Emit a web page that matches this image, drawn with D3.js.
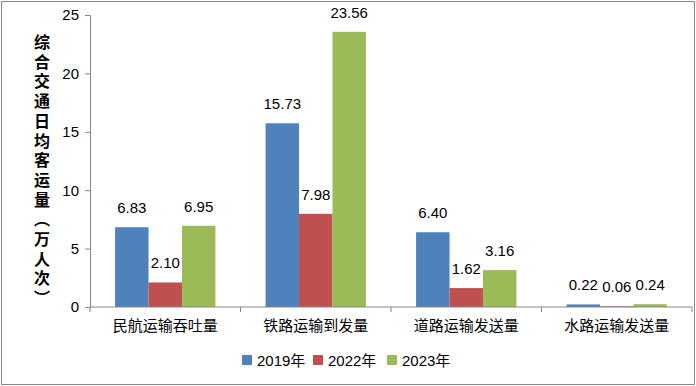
<!DOCTYPE html>
<html>
<head>
<meta charset="utf-8">
<script src="https://cdn.jsdelivr.net/npm/d3@7"></script>
<style>
body{margin:0;background:#fff;}
svg{display:block;font-family:"Liberation Sans","Noto Sans CJK SC",sans-serif;}
</style>
</head>
<body>
<svg></svg>
<script>
var categories=["民航运输吞吐量","铁路运输到发量","道路运输发送量","水路运输发送量"];
var years=["2019年","2022年","2023年"];
var v2019=[6.83,15.73,6.40,0.22];
var v2022=[2.10,7.98,1.62,0.06];
var v2023=[6.95,23.56,3.16,0.24];
var yTicks=[0,5,10,15,20,25];
var colors=["#4F81BD","#C0504D","#9BBB59"];
var yTitle="综合交通日均客运量（万人次）";

var screen={width:696,height:386};
var svg=d3.select("svg")
          .attr("width",screen.width)
          .attr("height",screen.height)

svg.append("rect")
   .attr("x",1.5).attr("y",1.5)
   .attr("width",screen.width-3).attr("height",screen.height-3)
   .attr("fill","#fff").attr("stroke","#868686").attr("stroke-width",1)

var margins={left:90,right:4,top:15,bottom:79};
var boxWidth=screen.width-margins.left-margins.right;
var boxHeight=screen.height-margins.top-margins.bottom;

var series=[v2019,v2022,v2023];
var rows=categories.map(function(c,i){
  return {cat:c,vals:series.map(function(s,j){return {year:years[j],value:s[i],k:j};})};
});

var xScale=d3.scaleBand()
             .domain(categories)
             .range([0,boxWidth])
             .paddingInner(0)
             .paddingOuter(0);
var inner=d3.scaleBand()
            .domain(d3.range(3))
            .range([0,xScale.bandwidth()])
            .paddingOuter(0.75)
            .paddingInner(0);
var yScale=d3.scaleLinear()
             .domain([0,25])
             .range([boxHeight,0]);

var plot=svg.append("g")
            .attr("transform","translate("+margins.left+","+margins.top+")");

var groups=plot.selectAll(".grp")
   .data(rows)
   .enter()
   .append("g")
   .attr("transform",function(d){return "translate("+xScale(d.cat)+",0)";})

groups.selectAll("rect")
   .data(function(d){return d.vals;})
   .enter()
   .append("rect")
   .attr("x",function(d){return inner(d.k);})
   .attr("width",inner.bandwidth())
   .attr("y",function(d){return yScale(d.value);})
   .attr("height",function(d){return boxHeight-yScale(d.value);})
   .attr("fill",function(d){return colors[d.k];})

groups.selectAll("text")
   .data(function(d){return d.vals;})
   .enter()
   .append("text")
   .attr("x",function(d){return inner(d.k)+inner.bandwidth()/2;})
   .attr("y",function(d){return yScale(d.value)-14;})
   .attr("text-anchor","middle")
   .attr("font-size",15)
   .attr("fill","#000")
   .text(function(d){return d.value.toFixed(2);})

// y axis
var yAxis=d3.axisLeft(yScale).tickValues(yTicks).tickSize(5).tickPadding(6);
var ya=plot.append("g").call(yAxis);
ya.select(".domain").attr("stroke","#868686");
ya.selectAll(".tick line").attr("stroke","#868686");
ya.selectAll(".tick text").attr("font-size",15).attr("fill","#000")
  .attr("font-family","Liberation Sans");

// x axis
var xa=plot.append("g").attr("transform","translate(0,"+boxHeight+")");
xa.append("line").attr("x1",0).attr("x2",boxWidth).attr("stroke","#868686");
xa.selectAll(".ct")
  .data(d3.range(categories.length+1))
  .enter()
  .append("line")
  .attr("x1",function(i){return i*xScale.step();})
  .attr("x2",function(i){return i*xScale.step();})
  .attr("y1",0).attr("y2",5)
  .attr("stroke","#868686")
xa.selectAll(".cl")
  .data(categories)
  .enter()
  .append("text")
  .attr("x",function(d){return xScale(d)+xScale.bandwidth()/2;})
  .attr("y",24)
  .attr("text-anchor","middle")
  .attr("font-size",15)
  .attr("fill","#000")
  .text(function(d){return d;})

// y title, stacked vertically
svg.append("text")
   .attr("x",42)
   .attr("y",34)
   .attr("font-size",16)
   .attr("font-weight","bold")
   .attr("font-family","Noto Sans CJK SC")
   .attr("fill","#000")
   .style("writing-mode","vertical-rl")
   .style("text-orientation","upright")
   .style("font-feature-settings","'vert' 0")
   .style("letter-spacing","3.7px")
   .text(yTitle)

// legend
var legX=[242,313,387];
var leg=svg.append("g").selectAll("g")
   .data(years)
   .enter()
   .append("g")
   .attr("transform",function(d,i){return "translate("+legX[i]+",355)";})
leg.append("rect").attr("width",10).attr("height",10)
   .attr("fill",function(d,i){return colors[i];})
leg.append("text").attr("x",15).attr("y",10.5)
   .attr("font-size",15).attr("fill","#000")
   .text(function(d){return d;})
</script>
</body>
</html>
